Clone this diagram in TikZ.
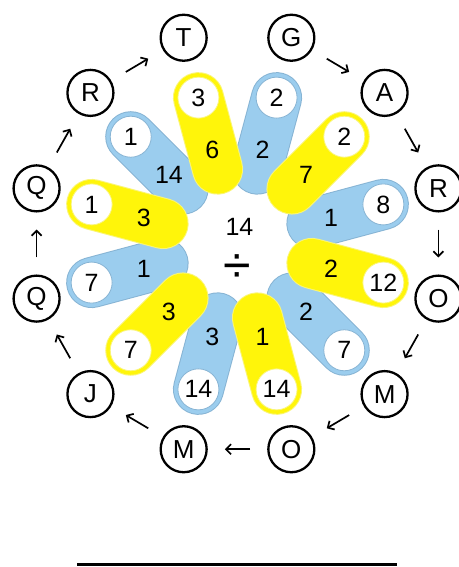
\documentclass[tikz,border=0pt]{standalone}
\usepackage{fontspec}
\setmainfont{Liberation Sans}
\usetikzlibrary{arrows.meta,calc}
\definecolor{capY}{RGB}{255,245,10}
\definecolor{capYb}{RGB}{250,245,120}
\definecolor{capB}{RGB}{155,205,238}
\definecolor{capBb}{RGB}{135,180,212}
\begin{document}
\begin{tikzpicture}[x=1pt,y=1pt,
  letter/.style={circle, draw, line width=2.3pt, minimum size=46pt, inner sep=0pt, font=\fontsize{26}{26}\selectfont},
  num/.style={font=\fontsize{25}{25}\selectfont, inner sep=0pt},
  whitec/.style={circle, fill=white, minimum size=41pt, inner sep=0pt, line width=0.8pt, font=\fontsize{25}{25}\selectfont},
  arr/.style={-{Straight Barb[length=5pt,width=10pt]}, line width=1.7pt, shorten <=17pt, shorten >=17pt},
  capsule/.style={line width=#1, line cap=round}
]
\useasboundingbox (0,0) rectangle (458,567);
\coordinate (C) at (237.5,323.5);
% blue capsules (behind)
\foreach \a in {75,15,-45,-105,-165,135} {
  \draw[capsule=51pt, capBb] ($(C)+(\a:77)$) -- ($(C)+(\a:151)$);
  \draw[capsule=49pt, capB] ($(C)+(\a:77)$) -- ($(C)+(\a:151)$);
}
% yellow capsules (front)
\foreach \a in {105,45,-15,-75,-135,165} {
  \draw[capsule=51pt, capYb] ($(C)+(\a:77)$) -- ($(C)+(\a:151)$);
  \draw[capsule=49pt, capY] ($(C)+(\a:77)$) -- ($(C)+(\a:151)$);
}
% numbers on capsules
\foreach \a/\o/\n/\c [count=\k] in {105/3/6/capYb, 75/2/2/capBb, 45/2/7/capYb, 15/8/1/capBb, -15/12/2/capYb, -45/7/2/capBb, -75/14/1/capYb, -105/14/3/capBb, -135/7/3/capYb, -165/7/1/capBb, 165/1/3/capYb, 135/1/14/capBb} {
  \node[whitec, draw=\c] (out\k) at ($(C)+(\a:151)$) {\o};
  \node[num] (in\k) at ($(C)+(\a:97)$) {\n};
}
% centre
\node[num] (top) at (239.5,340) {14};
\node[font=\fontsize{50}{50}\selectfont, inner sep=0pt] (div) at (237.5,298) {÷};
% letter ring
\foreach \a/\t [count=\k] in {75/G, 45/A, 15/R, -15/O, -45/M, -75/O, -105/M, -135/J, -165/Q, 165/Q, 135/R, 105/T} {
  \node[letter] (L\k) at ($(C)+({208*cos(\a)},{213*sin(\a)})$) {\t};
}
\foreach \i [evaluate=\i as \j using int(\i+1)] in {1,...,11} {
  \draw[arr] (L\i) -- (L\j);
}
% bottom rule
\draw[line width=3pt] (77,2.2) -- (397,2.2);
\end{tikzpicture}
\end{document}
